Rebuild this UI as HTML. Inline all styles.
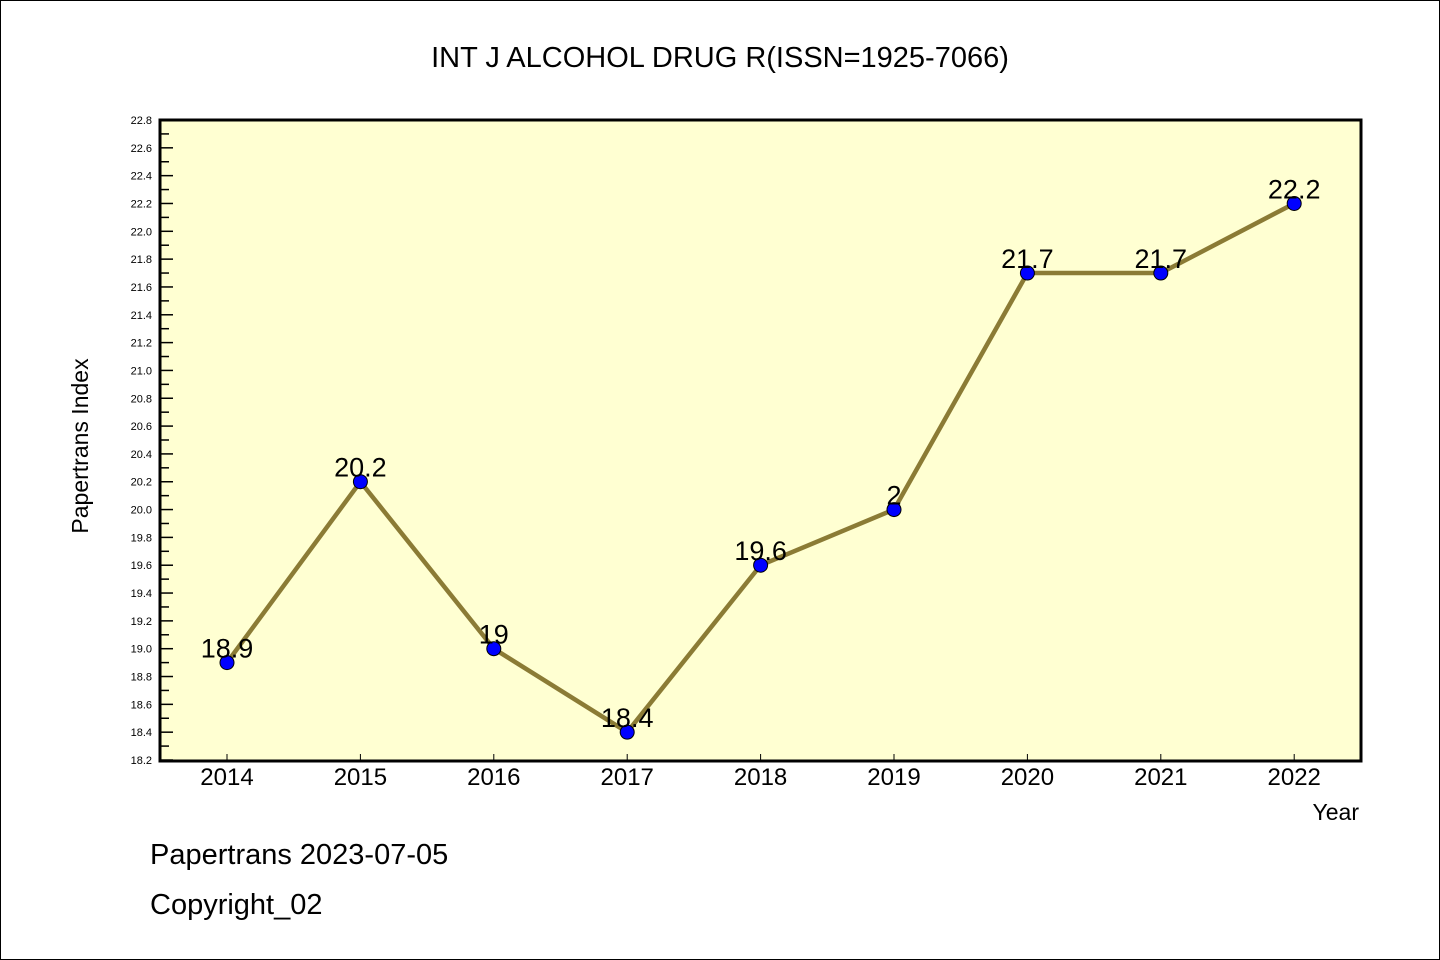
<!DOCTYPE html>
<html><head><meta charset="utf-8"><style>
html,body{margin:0;padding:0;background:#fff}
svg{display:block}
text{font-family:"Liberation Sans","WenQuanYi Zen Hei",sans-serif}
</style></head><body>
<svg id="chart" width="1440" height="960" xmlns="http://www.w3.org/2000/svg">
<rect x="0.5" y="0.5" width="1439" height="959" fill="#fff" stroke="#000"/>
<text x="720" y="67" text-anchor="middle" font-size="29" font-family="WenQuanYi Zen Hei, monospace">INT J ALCOHOL DRUG R(ISSN=1925-7066)</text>
<rect x="160" y="120" width="1201" height="641" fill="#ffffd2"/>
<g id="axes"></g>
<g id="series"></g>
<rect x="160" y="120" width="1201" height="641" fill="none" stroke="#000" stroke-width="3"/>
<text x="88" y="446" transform="rotate(-90 88 446)" text-anchor="middle" font-size="23" font-family="WenQuanYi Zen Hei, monospace">Papertrans Index</text>
<text x="1359" y="820" text-anchor="end" font-size="23" font-family="WenQuanYi Zen Hei, monospace">Year</text>
<text x="150" y="864" font-size="29" font-family="WenQuanYi Zen Hei, monospace">Papertrans 2023-07-05</text>
<text x="150" y="914" font-size="29" font-family="WenQuanYi Zen Hei, monospace">Copyright_02</text>
</svg>
<script>
const categories = ["2014","2015","2016","2017","2018","2019","2020","2021","2022"];
const values = [18.9,20.2,19.0,18.4,19.6,20.0,21.7,21.7,22.2];
const valueLabels = ["18.9","20.2","19","18.4","19.6","2","21.7","21.7","22.2"];
const yTicks = [18.2,18.4,18.6,18.8,19.0,19.2,19.4,19.6,19.8,20.0,20.2,20.4,20.6,20.8,21.0,21.2,21.4,21.6,21.8,22.0,22.2,22.4,22.6,22.8];
const yMin = 18.2, yMax = 22.8;
const NS = "http://www.w3.org/2000/svg";
function yS(v){ return 760 - (v - yMin) / (yMax - yMin) * 640; }
function xS(i){ return 227 + i * 133.4; }
function mk(tag, attrs, parent){ const e = document.createElementNS(NS, tag); for (const k in attrs) e.setAttribute(k, attrs[k]); parent.appendChild(e); return e; }
const axes = document.getElementById("axes");
yTicks.forEach((t, i) => {
  const y = yS(t);
  const tk = mk("line", {x1:160, x2:173, y1:y, y2:y, stroke:"#000", "stroke-width":1.5}, axes);
  
  
  const lb = mk("text", {x:152, y:y+4, "text-anchor":"end", "font-size":11}, axes);
  
  
  lb.textContent = t.toFixed(1);
  if (i < yTicks.length - 1) {
    const ym = yS(t + 0.1);
    const mt = mk("line", {x1:160, x2:169, y1:ym, y2:ym, stroke:"#000", "stroke-width":1.5}, axes);
    
    
  }
});
categories.forEach((c, i) => {
  const x = xS(i);
  const tk = mk("line", {x1:x, x2:x, y1:760, y2:754, stroke:"#000", "stroke-width":1}, axes);
  
  
  const lb = mk("text", {x:x, y:785, "text-anchor":"middle", "font-size":24, "font-family":"WenQuanYi Zen Hei, monospace"}, axes);
  
  
  lb.textContent = c;
});
const series = document.getElementById("series");
const pts = values.map((v, i) => xS(i) + "," + yS(v)).join(" ");
const line = mk("polyline", {points:pts, fill:"none", stroke:"#8b7b35", "stroke-width":4.5, "stroke-linejoin":"round"}, series);


values.forEach((v, i) => {
  const p = mk("circle", {cx:xS(i), cy:yS(v), r:7, fill:"#0000ff", stroke:"#000", "stroke-width":1}, series);
  
  
  const t = mk("text", {x:xS(i), y:yS(v)-5, "text-anchor":"middle", "font-size":27, "font-family":"WenQuanYi Zen Hei, monospace"}, series);
  
  
  t.textContent = valueLabels[i];
});
</script>
</body></html>
